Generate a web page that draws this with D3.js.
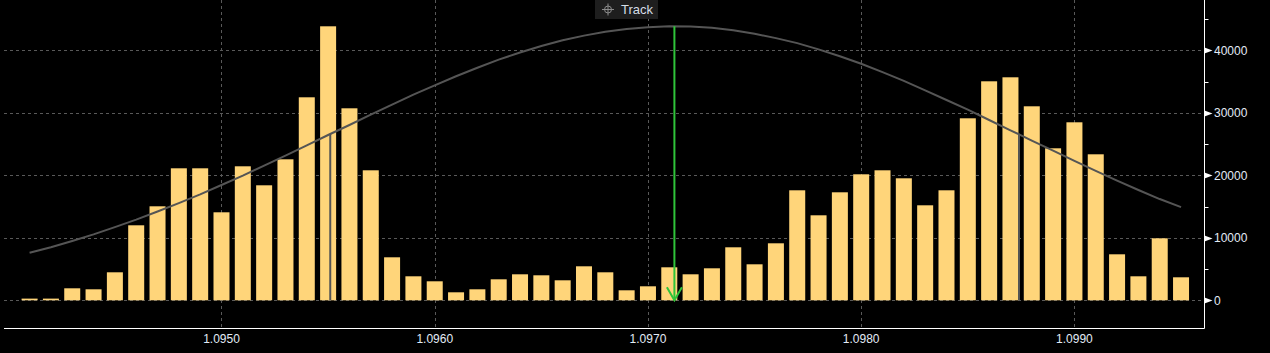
<!DOCTYPE html>
<html>
<head>
<meta charset="utf-8">
<script src="https://cdn.jsdelivr.net/npm/d3@7"></script>
<style>
	html, body { margin: 0; padding: 0; background: #000; }
	svg { display: block; }
	text { font-family: "Liberation Sans", Arial, sans-serif; }
</style>
</head>
<body>
<svg id="chart" width="1270" height="353"></svg>
<script>
//data
var bins = [
	1.0941, 1.0942, 1.0943, 1.0944, 1.0945, 1.0946, 1.0947, 1.0948, 1.0949, 1.0950,
	1.0951, 1.0952, 1.0953, 1.0954, 1.0955, 1.0956, 1.0957, 1.0958, 1.0959, 1.0960,
	1.0961, 1.0962, 1.0963, 1.0964, 1.0965, 1.0966, 1.0967, 1.0968, 1.0969, 1.0970,
	1.0971, 1.0972, 1.0973, 1.0974, 1.0975, 1.0976, 1.0977, 1.0978, 1.0979, 1.0980,
	1.0981, 1.0982, 1.0983, 1.0984, 1.0985, 1.0986, 1.0987, 1.0988, 1.0989, 1.0990,
	1.0991, 1.0992, 1.0993, 1.0994, 1.0995
];
var volumes = [
	270, 270, 1920, 1760, 4480, 12000, 15040, 21120, 21120, 14080,
	21440, 18400, 22560, 32480, 43840, 30720, 20800, 6880, 3840, 3040,
	1280, 1760, 3360, 4160, 4000, 3200, 5440, 4480, 1600, 2240,
	5280, 4160, 5120, 8480, 5760, 9120, 17600, 13600, 17280, 20160,
	20800, 19520, 15200, 17600, 29120, 35040, 35680, 31040, 24320, 28480,
	23360, 7360, 3840, 9920, 3680
];
var fitCurve = [
	7600, 8500, 9500, 10550, 11700, 12900, 14200, 15550, 16950, 18450,
	19950, 21550, 23150, 24800, 26450, 28050, 29700, 31300, 32900, 34400,
	35850, 37200, 38500, 39650, 40700, 41600, 42350, 42950, 43400, 43700,
	43840, 43800, 43600, 43200, 42650, 41950, 41150, 40150, 39050, 37850,
	36500, 35100, 33600, 32050, 30500, 28850, 27200, 25550, 23950, 22300,
	20700, 19150, 17650, 16200, 14900
];
var sigmaMarks = [1.09551, 1.09874];
var sigmaHeights = [26650, 26650];
var trackPrice = 1.097124;
var trackHeight = 43840;

var xTicks = [1.095, 1.096, 1.097, 1.098, 1.099];
var xTickLabels = ["1.0950", "1.0960", "1.0970", "1.0980", "1.0990"];
var yTicks = [0, 10000, 20000, 30000, 40000];
var yMinorTicks = [5000, 15000, 25000, 35000, 45000];

//params
var PLOT_LEFT = 4;
var PLOT_RIGHT = 1204.5;
var PLOT_BOTTOM = 328.5;
var BAR_W = 16;
var BAR_COLOR = "#ffd57a";
var GRID_COLOR = "#595959";
var CURVE_COLOR = "#555555";
var LABEL_COLOR = "#e2ebf6";

var svg = d3.select("#chart");
svg.append("rect").attr("width", 1270).attr("height", 353).attr("fill", "#000");

var x = d3.scaleLinear().domain([1.09398, 1.09961]).range([PLOT_LEFT, PLOT_RIGHT]);
var y = d3.scaleLinear().domain([0, 40000]).range([300.3, 50.3]);

// grid
var grid = svg.append("g").attr("stroke", GRID_COLOR).attr("stroke-width", 1).attr("stroke-dasharray", "3,3");
grid.selectAll("line.h").data(yTicks).enter().append("line")
	.attr("x1", PLOT_LEFT).attr("x2", PLOT_RIGHT)
	.attr("y1", function(d){return Math.round(y(d)) + 0.5;})
	.attr("y2", function(d){return Math.round(y(d)) + 0.5;});
grid.selectAll("line.v").data(xTicks).enter().append("line")
	.attr("y1", 0).attr("y2", PLOT_BOTTOM)
	.attr("x1", function(d){return Math.round(x(d)) + 0.5;})
	.attr("x2", function(d){return Math.round(x(d)) + 0.5;});

// volume bars
svg.append("g").selectAll("rect").data(bins).enter().append("rect")
	.attr("x", function(d){return x(d) - BAR_W / 2;})
	.attr("width", BAR_W)
	.attr("y", function(d, i){return y(volumes[i]);})
	.attr("height", function(d, i){return y(0) - y(volumes[i]);})
	.attr("fill", BAR_COLOR);

// sigma markers
svg.append("g").selectAll("line").data(sigmaMarks).enter().append("line")
	.attr("x1", function(d){return x(d);})
	.attr("x2", function(d){return x(d);})
	.attr("y1", y(0))
	.attr("y2", function(d, i){return y(sigmaHeights[i]);})
	.attr("stroke", CURVE_COLOR)
	.attr("stroke-width", 2);

// fitted curve
var line = d3.line()
	.x(function(d, i){return x(bins[i]);})
	.y(function(d){return y(d);});
svg.append("path")
	.datum(fitCurve)
	.attr("d", line)
	.attr("fill", "none")
	.attr("stroke", CURVE_COLOR)
	.attr("stroke-width", 2);

// track line with arrow
var tx = x(trackPrice);
var track = svg.append("g").attr("stroke", "#2fc43a").attr("stroke-width", 2).attr("fill", "none");
track.append("line")
	.attr("x1", tx).attr("x2", tx)
	.attr("y1", y(trackHeight)).attr("y2", y(0));
track.append("path")
	.attr("d", "M" + (tx - 7.5) + "," + (y(0) - 13) + "L" + tx + "," + y(0) + "L" + (tx + 7.5) + "," + (y(0) - 13));

// axes
var axes = svg.append("g").attr("stroke", "#ffffff").attr("stroke-width", 1);
axes.append("line").attr("x1", PLOT_RIGHT).attr("x2", PLOT_RIGHT).attr("y1", 0).attr("y2", PLOT_BOTTOM);
axes.append("line").attr("x1", PLOT_LEFT).attr("x2", PLOT_RIGHT).attr("y1", PLOT_BOTTOM).attr("y2", PLOT_BOTTOM);
axes.selectAll("line.minor").data(yMinorTicks).enter().append("line")
	.attr("x1", PLOT_RIGHT).attr("x2", PLOT_RIGHT + 4)
	.attr("y1", function(d){return Math.round(y(d)) + 0.5;})
	.attr("y2", function(d){return Math.round(y(d)) + 0.5;});

svg.append("g").selectAll("path").data(yTicks).enter().append("path")
	.attr("d", function(d){
		var yy = Math.round(y(d)) + 0.5;
		return "M" + PLOT_RIGHT + "," + (yy - 3) + "L" + (PLOT_RIGHT + 8) + "," + yy + "L" + PLOT_RIGHT + "," + (yy + 3) + "Z";
	})
	.attr("fill", "#ffffff");

svg.append("g").selectAll("text").data(yTicks).enter().append("text")
	.attr("x", PLOT_RIGHT + 9.5)
	.attr("y", function(d){return y(d) + 4.5;})
	.attr("fill", LABEL_COLOR)
	.attr("font-size", 12)
	.text(function(d){return d;});

svg.append("g").selectAll("text").data(xTicks).enter().append("text")
	.attr("x", function(d){return x(d);})
	.attr("y", 343)
	.attr("text-anchor", "middle")
	.attr("fill", LABEL_COLOR)
	.attr("font-size", 12)
	.text(function(d, i){return xTickLabels[i];});

// track badge
var badge = svg.append("g").attr("transform", "translate(595,0)");
badge.append("rect").attr("width", 63).attr("height", 19).attr("fill", "#1e1e1e");
var icon = badge.append("g").attr("transform", "translate(13,9.5)").attr("stroke", "#8a8a8a").attr("stroke-width", 1).attr("fill", "none");
icon.append("circle").attr("r", 3.5);
icon.append("line").attr("x1", -6).attr("x2", 6).attr("y1", 0).attr("y2", 0);
icon.append("line").attr("y1", -6).attr("y2", 6).attr("x1", 0).attr("x2", 0);
badge.append("text")
	.attr("x", 26).attr("y", 14)
	.attr("fill", "#d5dde6")
	.attr("font-size", 13)
	.text("Track");
</script>
</body>
</html>
